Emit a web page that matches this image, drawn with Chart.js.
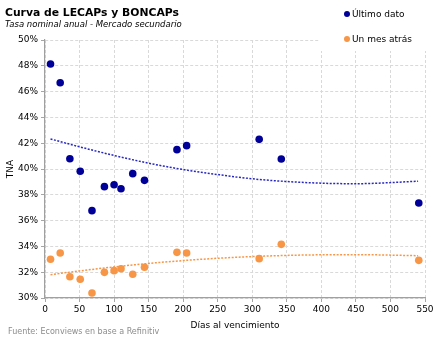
<!DOCTYPE html>
<html>
<head>
<meta charset="utf-8">
<script src="https://cdn.jsdelivr.net/npm/chart.js@4.4.1/dist/chart.umd.min.js"></script>
<style>
  html, body { margin: 0; padding: 0; background: #fff; }
  #wrap { width: 443px; height: 340px; }
</style>
</head>
<body>
<div id="wrap"><canvas id="curva" width="443" height="340"></canvas></div>
<script>
// Días al vencimiento de cada bono
const days = [8, 22, 36, 51, 68, 86, 100, 110, 127, 144, 191, 205, 310, 342, 541];
// TNA (%) - último dato
const ultimo = [48.14, 46.69, 40.80, 39.82, 36.77, 38.63, 38.78, 38.47, 39.64, 39.12, 41.50, 41.81, 42.30, 40.78, 37.36];
// TNA (%) - un mes atrás
const mesAtras = [33.0, 33.49, 31.65, 31.45, 30.39, 31.99, 32.12, 32.27, 31.84, 32.38, 33.54, 33.49, 33.05, 34.16, 32.92];

// Líneas de tendencia
const trendDays = [8, 50, 100, 150, 200, 250, 300, 350, 400, 450, 540];
const trendUltimo = [42.33, 41.72, 41.05, 40.45, 39.96, 39.57, 39.24, 39.03, 38.90, 38.86, 39.05];
const trendMes = [31.81, 32.10, 32.41, 32.68, 32.90, 33.08, 33.21, 33.30, 33.35, 33.36, 33.28];

const xTicks = [0, 50, 100, 150, 200, 250, 300, 350, 400, 450, 500, 550];
const yTicks = [30, 32, 34, 36, 38, 40, 42, 44, 46, 48, 50];

const BLUE = "#000099";
const ORANGE = "#f79646";
const FONT = "DejaVu Sans";

const toPoints = (xs, ys) => xs.map((x, i) => ({ x: x, y: ys[i] }));

const headerPlugin = {
  id: "header",
  beforeDatasetsDraw(chart) {
    // white box behind legend hides the grid there
    const ctx = chart.ctx;
    ctx.save();
    ctx.fillStyle = "#fff";
    ctx.fillRect(319, 0, 124, 51);
    ctx.restore();
  },
  afterDraw(chart) {
    const ctx = chart.ctx;
    ctx.save();
    ctx.fillStyle = "#000";
    ctx.textBaseline = "alphabetic";
    ctx.font = "bold 10.8px " + FONT;
    ctx.fillText("Curva de LECAPs y BONCAPs", 5, 16);
    ctx.font = "italic 8.5px " + FONT;
    ctx.fillText("Tasa nominal anual - Mercado secundario", 5, 27);

    ctx.font = "8px " + FONT;
    ctx.fillStyle = "#8c8c8c";
    ctx.fillText("Fuente: Econviews en base a Refinitiv", 8, 334);

    // legend
    const items = chart.data.datasets.filter(d => !d.isTrend);
    items.forEach((d, i) => {
      const y = 14 + i * 25;
      ctx.beginPath();
      ctx.fillStyle = d.backgroundColor;
      ctx.arc(347, y, 3, 0, Math.PI * 2);
      ctx.fill();
      ctx.fillStyle = "#000";
      ctx.font = "9px " + FONT;
      ctx.textBaseline = "middle";
      ctx.fillText(d.label, 352, y + 1);
    });
    ctx.restore();
  }
};

new Chart(document.getElementById("curva"), {
  type: "scatter",
  data: {
    datasets: [
      {
        label: "Último dato",
        data: toPoints(days, ultimo),
        backgroundColor: BLUE,
        borderColor: BLUE,
        borderWidth: 0,
        pointRadius: 3.8,
        order: 1
      },
      {
        label: "Un mes atrás",
        data: toPoints(days, mesAtras),
        backgroundColor: ORANGE,
        borderColor: ORANGE,
        borderWidth: 0,
        pointRadius: 3.8,
        order: 1
      },
      {
        label: "Tendencia último",
        isTrend: true,
        type: "line",
        data: toPoints(trendDays, trendUltimo),
        borderColor: "#2828c0",
        borderWidth: 1.5,
        borderDash: [2, 1.5],
        pointRadius: 0,
        tension: 0.4,
        cubicInterpolationMode: "monotone",
        fill: false,
        order: 2
      },
      {
        label: "Tendencia mes",
        isTrend: true,
        type: "line",
        data: toPoints(trendDays, trendMes),
        borderColor: ORANGE,
        borderWidth: 1.5,
        borderDash: [2, 1.5],
        pointRadius: 0,
        tension: 0.4,
        cubicInterpolationMode: "monotone",
        fill: false,
        order: 2
      }
    ]
  },
  options: {
    responsive: false,
    animation: false,
    layout: { padding: { top: 40, right: 18, left: 0, bottom: 0 } },
    plugins: {
      legend: { display: false },
      tooltip: { enabled: false }
    },
    scales: {
      x: {
        type: "linear",
        min: xTicks[0],
        max: xTicks[xTicks.length - 1],
        afterFit: s => { s.height = 42; },
        afterBuildTicks: s => { s.ticks = xTicks.map(v => ({ value: v })); },
        ticks: { color: "#000", font: { family: FONT, size: 9 }, padding: 2, maxRotation: 0 },
        grid: { color: "#d9d9d9", tickColor: "#a6a6a6", tickLength: 4, drawOnChartArea: true },
        border: { color: "#a0a0a0", width: 1.2, dash: [3, 2] },
        title: { display: true, text: "Días al vencimiento", color: "#000", font: { family: FONT, size: 9 }, padding: { top: 0, bottom: 9 } }
      },
      y: {
        type: "linear",
        min: yTicks[0],
        max: yTicks[yTicks.length - 1],
        afterFit: s => { s.width = 45; },
        afterBuildTicks: s => { s.ticks = yTicks.map(v => ({ value: v })); },
        ticks: { color: "#000", font: { family: FONT, size: 9 }, padding: 3, callback: v => v + "%" },
        grid: { color: "#d9d9d9", tickColor: "#a6a6a6", tickLength: 4 },
        border: { color: "#a0a0a0", width: 1.2, dash: [3, 2] },
        title: { display: true, text: "TNA", color: "#000", font: { family: FONT, size: 9 }, padding: { top: 5, bottom: 0 } }
      }
    }
  },
  plugins: [headerPlugin]
});
</script>
</body>
</html>
